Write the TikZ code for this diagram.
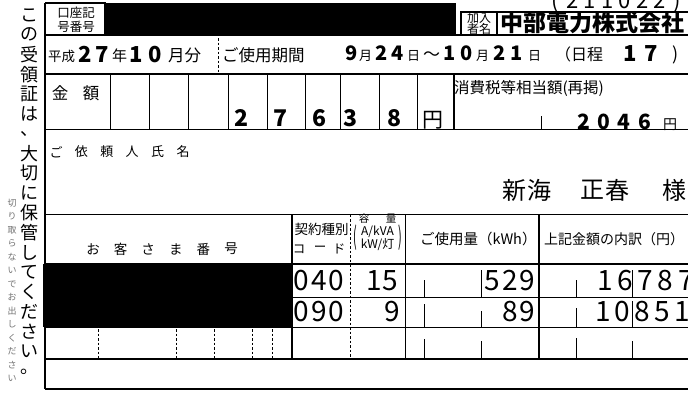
\documentclass[tikz,border=0pt]{standalone}
\usepackage{graphicx}
\usepackage{fontspec}
\setmainfont{Noto Sans CJK JP}
\newcommand\dgt{\bfseries}
\newcommand\fsz[1]{\fontsize{#1}{#1}\selectfont}
\newlength\dgw
\def\dgloop#1{\ifx#1\relax\else\makebox[\dgw]{#1}\expandafter\dgloop\fi}
\newcommand\dgs[2]{\setlength\dgw{#1pt}\dgloop#2\relax}
\begin{document}
\begin{tikzpicture}[x=1pt,y=-1pt,
  frame/.style={line width=1.4pt},
  thinline/.style={line width=0.9pt},
  dsh/.style={line width=0.9pt,dash pattern=on 2.5pt off 2pt},
  txt/.style={inner sep=0pt,outer sep=0pt},
  bwn/.style={txt,anchor=base west},
  bcn/.style={txt,anchor=base},
]
\useasboundingbox (0,0) rectangle (688,394);
\clip (0,0) rectangle (688,394);
\fill[white] (0,0) rectangle (688,394);

% ---------- row 1
\fill (105,3) rectangle (456,34);
\draw[frame] (45,3) -- (105,3) -- (105,35);
\draw[frame] (461,35) -- (461,12) -- (688,12);
\draw[frame] (497,12) -- (497,35);
\draw[frame] (45,35) -- (688,35);
\draw[frame] (45,3) -- (45,389);
\node[txt] (koza1) at (76,13) {\fsz{12.5}口座記};
\node[txt] (koza2) at (76,27) {\fsz{12.5}号番号};
\node[txt] (kanyu1) at (479,18) {\fsz{12}加入};
\node[txt] (kanyu2) at (479,29) {\fsz{12}者名};
\node[txt,anchor=west] (chubu) at (500,23) {\fsz{23}\bfseries 中部電力株式会社};
\node[bwn] (topnum) at (546,8) {\fsz{22}\dgs{17.5}{(211022)}};

% ---------- row 2
\draw[dsh] (218,38) -- (218,74);
\draw[frame] (45,74) -- (688,74);
\node[bwn] (heisei) at (48,61) {\fsz{13.5}平成};
\node[bwn] (n27) at (77,62) {\fsz{22}\dgt\dgs{16.5}{27}};
\node[bwn] (nen) at (112,61) {\fsz{15}年};
\node[bwn] (n10a) at (127,62) {\fsz{22}\dgt\dgs{19}{10}};
\node[bwn] (gatsubun) at (168,61) {\fsz{16.5}月分};
\node[bwn] (kikan) at (222,61) {\fsz{16.5}ご使用期間};
\node[bwn] (d9) at (344,60) {\fsz{20}\dgt\dgs{15}{9}};
\node[bwn] (m1) at (359,60) {\fsz{13}月};
\node[bwn] (d24) at (374,60) {\fsz{20}\dgt\dgs{16}{24}};
\node[bwn] (h1) at (407,60) {\fsz{13}日};
\node[bwn] (tilde) at (423,60) {\fsz{17}～};
\node[bwn] (d10) at (441,60) {\fsz{20}\dgt\dgs{17}{10}};
\node[bwn] (m2) at (476,60) {\fsz{13}月};
\node[bwn] (d21) at (491,60) {\fsz{20}\dgt\dgs{17}{21}};
\node[bwn] (h2) at (528,60) {\fsz{13}日};
\node[bwn] (paren1) at (555,60) {\fsz{16}（日程};
\node[bwn] (d17) at (620,61) {\fsz{22}\dgt\dgs{21}{17}};
\node[bwn] (paren2) at (672,60) {\fsz{18})};

% ---------- row 3 (amount)
\foreach \x in {110,149,188,228,267,305,340,379,417} \draw[thinline] (\x,74) -- (\x,129.5);
\draw[frame] (454,74) -- (454,129.5);
\draw[thinline] (541,116) -- (541,129.5);
\draw[frame] (45,129.5) -- (688,129.5);
\node[txt] (kin) at (60,93) {\fsz{16.5}金};
\node[txt] (gaku) at (91,93) {\fsz{16.5}額};
\node[bcn] (a1) at (241.5,126) {\fsz{23}\dgt 2};
\node[bcn] (a2) at (280.5,126) {\fsz{23}\dgt 7};
\node[bcn] (a3) at (319.5,126) {\fsz{23}\dgt 6};
\node[bcn] (a4) at (350.5,126) {\fsz{23}\dgt 3};
\node[bcn] (a5) at (394,126) {\fsz{23}\dgt 8};
\node[bcn] (yen1) at (433,127.5) {\fsz{21}円};
\node[txt,anchor=west] (shohi) at (454,88.5) {\fsz{15.5}消費税等相当額(再掲)};
\node[bwn] (n2046) at (573.5,129) {\fsz{21}\dgt\dgs{20.3}{2046}};
\node[bwn] (yen2) at (663,129) {\fsz{14}円};

% ---------- row 4 (name)
\draw[frame] (45,214.5) -- (688,214.5);
\foreach \ch [count=\i from 0] in {ご,依,頼,人,氏,名}
  \node[txt] (irai\i) at ({56+25.4*\i},152) {\fsz{13}\ch};
\node[txt] (s1) at (514,190) {\fsz{24}新};
\node[txt] (s2) at (539,190) {\fsz{24}海};
\node[txt] (s3) at (592,190) {\fsz{24}正};
\node[txt] (s4) at (617,190) {\fsz{24}春};
\node[txt] (s5) at (674,190) {\fsz{24}様};

% ---------- bottom table
\fill (43,264) rectangle (291,327);
\draw[frame] (292,214.5) -- (292,359);
\draw[dsh] (350,214.5) -- (350,359);
\draw[thinline] (405,214.5) -- (405,359);
\draw[frame] (539,214.5) -- (539,359);
\draw[frame] (45,264) -- (688,264);
\draw[thinline] (292,297) -- (688,297);
\draw[thinline] (45,327) -- (688,327);
\draw[frame] (45,359) -- (688,359);
\draw[frame] (45,389) -- (688,389);
\foreach \x in {98,176,214,252,272} \draw[dsh] (\x,329) -- (\x,358);
% ticks
\draw[thinline] (424,280) -- (424,297) (481,270) -- (481,297) (576,280) -- (576,297) (632,270) -- (632,297);
\draw[thinline] (424,304) -- (424,327) (481,311) -- (481,327) (576,308) -- (576,327) (632,301) -- (632,327);
\draw[thinline] (424,339) -- (424,359) (481,341) -- (481,359) (576,338) -- (576,359) (632,341) -- (632,359);

\foreach \ch [count=\i from 0] in {お,客,さ,ま,番,号}
  \node[txt] (okyaku\i) at ({93+27.6*\i},249) {\fsz{13.5}\ch};
\node[txt] (keiyaku) at (321.5,229) {\fsz{13.5}契約種別};
\node[txt] (code1) at (299,249) {\fsz{12.5}コ};
\node[txt] (code2) at (320,249) {\fsz{12.5}ー};
\node[txt] (code3) at (339,249) {\fsz{12.5}ド};
\node[txt] (you) at (364,219) {\fsz{10.5}容};
\node[txt] (ryou) at (391,219) {\fsz{10.5}量};
\node[txt] (akva) at (377.5,232) {\fsz{12}A/kVA};
\node[txt] (kwto) at (377.5,245) {\fsz{12}kW/灯};
\node[txt] (lp) at (355,238) {\fsz{12}\scalebox{0.9}[2.1]{(}};
\node[txt] (rp) at (400.5,238) {\fsz{12}\scalebox{0.9}[2.1]{)}};
\node[txt,anchor=west] (usage) at (420,239) {\fsz{14.5}ご使用量（kWh）};
\node[txt,anchor=west] (uchiwake) at (544,239) {\fsz{14}上記金額の内訳（円）};

\node[bwn] (c040) at (292.75,290) {\fsz{28}\dgs{17.5}{040}};
\node[bwn] (c15) at (365.75,290) {\fsz{28}\dgs{16.5}{15}};
\node[bwn] (c529) at (484,290) {\fsz{28}\dgs{17.5}{529}};
\node[bwn] (c16787) at (595,290) {\fsz{28}\dgs{20.2}{16787}};
\node[bwn] (c090) at (292.75,321) {\fsz{28}\dgs{17.5}{090}};
\node[bcn] (c9) at (392.5,321) {\fsz{28}9};
\node[bwn] (c89) at (502.5,321) {\fsz{28}\dgs{16.5}{89}};
\node[bwn] (c10851) at (593,321) {\fsz{28}\dgs{19.8}{10851}};

% ---------- vertical texts at left
\foreach \ch [count=\i from 0] in {こ,の,受,領,証,は,、,大,切,に,保,管,し,て,く,だ,さ,い,。}
  \node[txt] (v\i) at (29,{15+19.8*\i}) {\fsz{18}\ch};
\foreach \ch [count=\i from 0] in {切,り,取,ら,な,い,で,お,出,し,く,だ,さ,い}
  \node[txt,text=black!55] (sv\i) at (12,{203+13.5*\i}) {\fsz{9}\ch};
\end{tikzpicture}
\end{document}
